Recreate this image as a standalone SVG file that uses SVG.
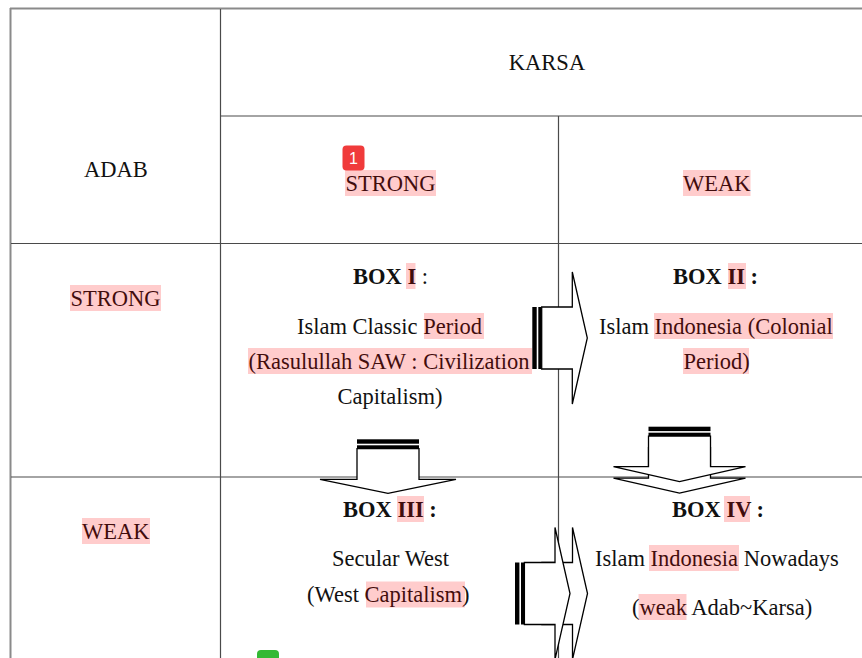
<svg xmlns="http://www.w3.org/2000/svg" xmlns:xlink="http://www.w3.org/1999/xlink" width="862" height="658" viewBox="0 0 862 658">
<style>
  .t { font-family: "Liberation Serif", "Times New Roman", serif; font-size: 22.5px; fill: #111; }
  .b { font-weight: bold; }
  .n { font-weight: normal; }
  .hl { fill: rgba(255,0,0,0.2); }
  .outer { stroke: #8a8a8a; stroke-width: 2; fill: none; }
  .inner { stroke: #4a4a4a; stroke-width: 1.2; fill: none; }
  .badge { font-family: "Liberation Sans", Arial, sans-serif; font-size: 16px; fill: #fff; }
</style>
<defs>
  <g id="stripedArrow">
    <rect x="0" y="-31" width="4.4" height="62" fill="#000"/>
    <rect x="6" y="-31" width="3.4" height="62" fill="#000"/>
    <polygon points="9.4,-31 40,-31 40,-66 55,0 40,66 40,31 9.4,31" fill="#fff" stroke="#000" stroke-width="1.3" stroke-linejoin="miter"/>
  </g>
  <g id="stripedArrowWide">
    <rect x="0" y="-31" width="4.4" height="62" fill="#000"/>
    <rect x="6" y="-31" width="3.4" height="62" fill="#000"/>
    <polygon points="9.4,-31 40,-31 40,-68 54,0 40,68 40,31 9.4,31" fill="#fff" stroke="#000" stroke-width="1.3" stroke-linejoin="miter"/>
  </g>
</defs>
<rect width="862" height="658" fill="#fff"/>

<g id="table">
  <line class="outer" x1="10" y1="8.5" x2="862" y2="8.5"/>
  <line class="outer" x1="10.5" y1="8" x2="10.5" y2="658"/>
  <line class="inner" x1="220.5" y1="9" x2="220.5" y2="658"/>
  <line class="inner" x1="220" y1="116" x2="862" y2="116"/>
  <line class="inner" x1="558.5" y1="116" x2="558.5" y2="658"/>
  <line class="inner" x1="11" y1="243.5" x2="862" y2="243.5"/>
  <line class="inner" x1="11" y1="477" x2="862" y2="477"/>
</g>

<g id="karsa">
  <text class="t" x="547" y="70" text-anchor="middle">KARSA</text>
</g>
<g id="adab">
  <text class="t" x="116" y="176.5" text-anchor="middle">ADAB</text>
</g>
<g id="col-strong">
  <text class="t" x="345.5" y="191">STRONG</text>
  <rect class="hl" x="345" y="170" width="91" height="26"/>
</g>
<g id="col-weak">
  <text class="t" x="683" y="191">WEAK</text>
  <rect class="hl" x="683" y="170" width="67.5" height="26"/>
</g>
<g id="row-strong">
  <text class="t" x="70.5" y="305.5">STRONG</text>
  <rect class="hl" x="70" y="285" width="91" height="26"/>
</g>
<g id="row-weak">
  <text class="t" x="82" y="538.5">WEAK</text>
  <rect class="hl" x="82" y="518" width="68" height="26"/>
</g>

<g id="box1">
  <text class="t b" x="353" y="283.5">BOX I<tspan class="n"> :</tspan></text>
  <rect class="hl" x="406" y="263" width="9.5" height="26"/>
  <text class="t" x="297" y="333.5">Islam Classic Period</text>
  <rect class="hl" x="424" y="313" width="60" height="26"/>
  <text class="t" x="248.5" y="368.5">(Rasulullah SAW : Civilization</text>
  <rect class="hl" x="248" y="348" width="284" height="26"/>
  <text class="t" x="390" y="403.5" text-anchor="middle">Capitalism)</text>
</g>

<g id="box2">
  <text class="t b" x="673" y="283.5">BOX II :</text>
  <rect class="hl" x="728" y="263" width="18" height="26"/>
  <text class="t" x="599" y="333.5">Islam Indonesia (Colonial</text>
  <rect class="hl" x="654" y="313" width="179" height="26"/>
  <text class="t" x="683.5" y="368.5">Period)</text>
  <rect class="hl" x="683" y="348" width="66" height="26"/>
</g>

<g id="box3">
  <text class="t b" x="343" y="516.5">BOX III :</text>
  <rect class="hl" x="397" y="496" width="27" height="26"/>
  <text class="t" x="332" y="566">Secular West</text>
  <text class="t" x="307" y="601.5">(West Capitalism)</text>
  <rect class="hl" x="366" y="581.5" width="99" height="26"/>
</g>

<g id="box4">
  <text class="t b" x="672" y="516.5">BOX IV :</text>
  <rect class="hl" x="724" y="496" width="26" height="26"/>
  <text class="t" x="595" y="565.5">Islam Indonesia Nowadays</text>
  <rect class="hl" x="649" y="545" width="90" height="26"/>
  <text class="t" x="632" y="614.5">(weak Adab~Karsa)</text>
  <rect class="hl" x="638.5" y="594" width="48" height="26"/>
</g>

<g id="connectors">
  <use xlink:href="#stripedArrow" transform="translate(532.3,338)"/>
  <use xlink:href="#stripedArrowWide" transform="translate(388,439.3) rotate(90)"/>
  <use xlink:href="#stripedArrow" transform="translate(679.5,438.2) rotate(90)"/>
  <use xlink:href="#stripedArrow" transform="translate(679.5,426.7) rotate(90)"/>
  <use xlink:href="#stripedArrow" transform="translate(532.5,593.5)"/>
  <use xlink:href="#stripedArrow" transform="translate(515,593.5)"/>
</g>

<g id="badges">
  <rect x="342.5" y="145.5" width="22" height="25" rx="4" fill="#f03b3b"/>
  <text class="badge" x="353.5" y="164" text-anchor="middle">1</text>
  <rect x="257" y="650" width="22" height="25" rx="4" fill="#34b934"/>
</g>
</svg>
